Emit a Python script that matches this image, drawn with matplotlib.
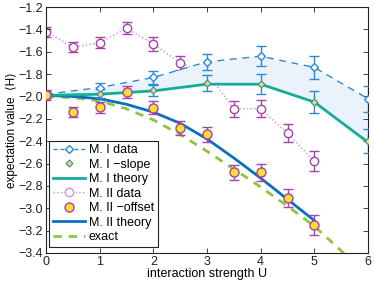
import matplotlib
matplotlib.use('Agg')
import matplotlib.pyplot as plt
from matplotlib.lines import Line2D
import numpy as np

plt.rcParams['font.family'] = ['Liberation Sans', 'DejaVu Sans']

# M. I (integer U)
u1 = [0, 1, 2, 3, 4, 5, 6]
m1_data = [-1.98, -1.92, -1.83, -1.69, -1.64, -1.74, -2.02]
m1_data_err = [0.03, 0.045, 0.06, 0.07, 0.09, 0.10, 0.115]
m1_slope = [-1.98, -1.975, -1.945, -1.88, -1.89, -2.05, -2.40]
m1_slope_err = [0.03, 0.04, 0.047, 0.075, 0.09, 0.10, 0.11]
m1_theory = [-1.99, -1.98, -1.95, -1.89, -1.89, -2.05, -2.41]

# M. II (half-integer steps)
u2 = [0, 0.5, 1, 1.5, 2, 2.5, 3, 3.5, 4, 4.5, 5]
m2_data = [-1.42, -1.56, -1.52, -1.39, -1.53, -1.70, -1.79, -2.11, -2.11, -2.33, -2.58]
m2_offset = [-1.99, -2.14, -2.095, -1.96, -2.10, -2.28, -2.34, -2.68, -2.68, -2.91, -3.15]
m2_err = [0.045, 0.045, 0.05, 0.055, 0.06, 0.065, 0.065, 0.07, 0.075, 0.08, 0.09]
m2_theory = [-1.99, -2.00, -2.02, -2.07, -2.14, -2.24, -2.38, -2.55, -2.73, -2.92, -3.11]

# exact
u_ex = [0, 0.5, 1, 1.5, 2, 2.5, 3, 3.5, 4, 4.5, 5, 5.5, 6]
exact = [-2.00, -2.01, -2.04, -2.11, -2.21, -2.34, -2.49, -2.65, -2.81, -2.98, -3.16, -3.38, -3.62]

legend_labels = ['M. I data', 'M. I \u2212slope', 'M. I theory', 'M. II data',
                 'M. II \u2212offset', 'M. II theory', 'exact']

c_m1 = '#2a8bd4'
c_teal = '#14ad9a'
c_purple = '#a244ac'
c_pink = '#dc8ddc'
c_m2 = '#0b6fc0'
c_green = '#8cc63f'
c_yellow = '#ffdd2a'

fig = plt.figure(figsize=(3.74, 2.86), dpi=100)
ax = fig.add_axes([0.123, 0.1154, 0.861, 0.86])

# M. II data line sits under the shaded band
ax.errorbar(u2, m2_data, yerr=m2_err, fmt=':', color=c_pink, marker='o', ms=6,
            mfc='white', mec=c_purple, mew=1.0, ecolor=c_purple, elinewidth=1.0,
            capsize=3.5, capthick=1.0, lw=1.0, zorder=1)

ax.fill_between(u1, m1_data, m1_theory, color='#eaf2fb', lw=0, zorder=1.5)

ax.plot(u_ex, exact, '--', color=c_green, lw=2, dashes=(3, 2.5), zorder=2)
ax.plot(u2, m2_theory, '-', color=c_m2, lw=2, zorder=2.1)
ax.plot(u1, m1_theory, '-', color=c_teal, lw=2, zorder=2.2)

ax.errorbar(u1, m1_data, yerr=m1_data_err, fmt='--', color=c_m1, marker='D', ms=4.5,
            mfc='white', mec=c_m1, mew=1.0, elinewidth=1.0, capsize=3.5, capthick=1.0,
            lw=1.0, dashes=(5, 4), zorder=3)
ax.errorbar(u1, m1_slope, yerr=m1_slope_err, fmt='none', ecolor=c_m1, elinewidth=1.0,
            capsize=3.5, capthick=1.0, zorder=3)
ax.plot(u1, m1_slope, linestyle='none', marker='D', ms=3.5, mfc=c_yellow, mec=c_m1,
        mew=0.8, zorder=4)
ax.errorbar(u2, m2_offset, yerr=m2_err, fmt='none', ecolor=c_purple, elinewidth=1.0,
            capsize=3.5, capthick=1.0, zorder=3)
ax.plot(u2, m2_offset, linestyle='none', marker='o', ms=6.5, mfc=c_yellow, mec=c_purple,
        mew=1.0, zorder=4)

ax.set_xlim(0, 6)
ax.set_ylim(-3.4, -1.2)
ax.set_xticks(range(7))
yt = np.arange(-3.4, -1.19, 0.2)
ax.set_yticks(yt)
ax.set_yticklabels(['\u2212%.1f' % abs(v) for v in yt])
ax.tick_params(direction='in', top=True, right=True, length=3.5, width=0.6,
               labelsize=9, pad=2, colors='#222222')
for s in ax.spines.values():
    s.set_linewidth(0.8)
    s.set_color('#222222')

ax.set_xlabel('interaction strength U', fontsize=9, labelpad=0)
ax.set_ylabel('expectation value  \u27e8H\u27e9', fontsize=8.5)
ax.yaxis.set_label_coords(-0.088, 0.5)

# legend handles without error bars
handles = [
    Line2D([], [], ls='--', dashes=(3, 2), color=c_m1, lw=1.0, marker='D', ms=4.5,
           mfc='white', mec=c_m1),
    Line2D([], [], ls='none', marker='D', ms=3.5, mfc=c_yellow, mec=c_m1, mew=0.8),
    Line2D([], [], ls='-', color=c_teal, lw=2),
    Line2D([], [], ls=':', color=c_pink, lw=1.0, marker='o', ms=6, mfc='white', mec=c_pink),
    Line2D([], [], ls='none', marker='o', ms=6.5, mfc=c_yellow, mec=c_purple),
    Line2D([], [], ls='-', color=c_m2, lw=2),
    Line2D([], [], ls='--', dashes=(3, 2.5), color=c_green, lw=2),
]
leg = ax.legend(handles, legend_labels, loc='lower left',
                bbox_to_anchor=(0.009, 0.024), borderaxespad=0, fontsize=9,
                handlelength=2.6, handletextpad=0.3, labelspacing=0.2,
                borderpad=0.3, fancybox=False, framealpha=1, edgecolor='#222222')
leg.get_frame().set_linewidth(0.8)
leg.set_zorder(10)

fig.savefig('out.png', dpi=100)
